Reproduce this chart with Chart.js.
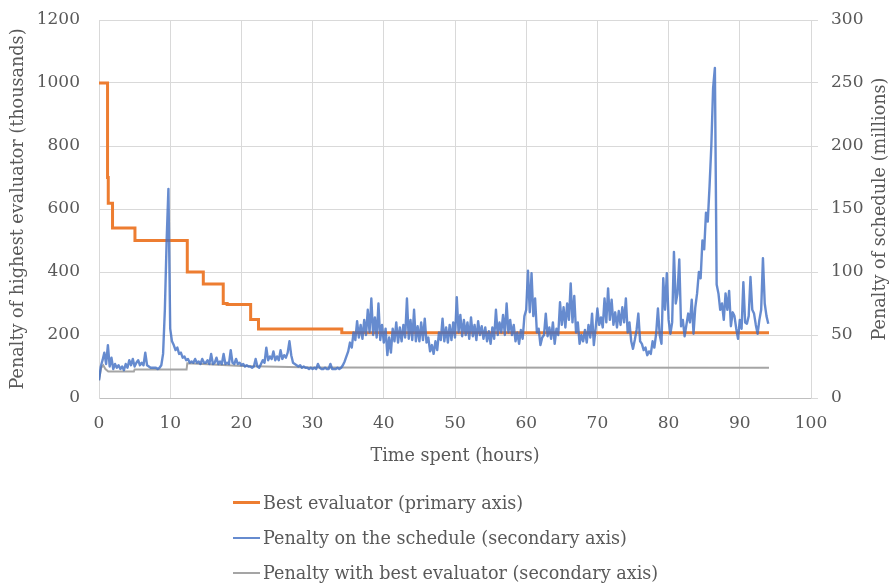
<!DOCTYPE html>
<html>
<head>
<meta charset="utf-8">
<script src="https://cdn.jsdelivr.net/npm/chart.js@4.4.1/dist/chart.umd.min.js"></script>
<style>
  body { margin: 0; background: #fff; }
  #wrap { position: relative; width: 893px; height: 586px; }
  #legend { position: absolute; left: 233px; top: 485px; font: 17.6px 'DejaVu Serif', serif; color: #595959; }
  .row { display: flex; align-items: center; height: 35px; white-space: nowrap; }
  .swatch { width: 27px; margin-right: 3px; }
</style>
</head>
<body>
<div id="wrap">
  <canvas id="myChart" width="893" height="586"></canvas>
  <div id="legend"></div>
</div>
<script>
// Meilleur évaluateur (axe principal, milliers) - valeur tenue jusqu'au point suivant
const evaluatorHours = [0, 1.2, 1.3, 1.9, 5.05, 12.4, 14.65, 17.45, 18.0, 21.3, 22.4, 34.1, 94.1];
const evaluatorPenalty = [1000, 700, 618, 540, 500, 400, 362, 300, 297, 249, 219, 207, 207];

// Pénalité avec le meilleur évaluateur (axe secondaire, millions)
const bestHours = [0, 0.3, 0.6, 0.9, 1.3, 4.9, 5.0, 12.3, 12.4, 16, 20, 25, 30, 94.1];
const bestPenalty = [14, 24, 26, 23, 21, 21, 22.6, 22.6, 27.5, 26.5, 25.3, 24.8, 24.2, 24];

// Pénalité du planning (axe secondaire, millions), un relevé toutes les 0.25 h
const scheduleStep = 0.25;
const schedulePenalty = [
  14, 25, 30, 36, 27, 42, 25, 32, 23, 27, 24, 26, 23, 25, 22, 27, 24, 30, 26, 31,          // 0 h
  25, 28, 30, 26, 28, 26, 36, 26, 25, 24, 24, 24, 24, 23, 24, 26, 35, 70, 125, 166,        // 5 h
  55, 45, 42, 38, 40, 35, 36, 32, 33, 30, 31, 28, 29, 28, 31, 28, 29, 27, 31, 28,          // 10 h
  28, 30, 27, 35, 27, 28, 32, 27, 29, 27, 35, 27, 28, 27, 38, 28, 27, 31, 27, 28,          // 15 h
  26, 27, 25, 26, 25, 25, 24, 25, 31, 25, 24, 27, 30, 28, 40, 30, 33, 31, 37, 30,          // 20 h
  33, 30, 38, 31, 34, 32, 36, 45, 34, 28, 27, 26, 25, 26, 24, 25, 24, 24, 23, 24,          // 25 h
  23, 24, 23, 27, 24, 23, 23, 24, 23, 23, 27, 23, 23, 23, 24, 23, 24, 26, 29, 33,          // 30 h
  37, 44, 40, 52, 46, 61, 48, 58, 47, 62, 50, 70, 52, 79, 50, 64, 48, 75, 46, 58,          // 35 h
  44, 55, 34, 48, 36, 55, 45, 60, 44, 56, 45, 58, 48, 79, 47, 62, 46, 70, 45, 57,          // 40 h
  45, 60, 46, 63, 44, 48, 37, 42, 35, 45, 38, 52, 46, 63, 45, 56, 44, 58, 46, 60,          // 45 h
  48, 80, 52, 66, 49, 62, 50, 60, 47, 64, 49, 58, 46, 61, 50, 57, 47, 56, 45, 53,          // 50 h
  43, 56, 47, 70, 50, 60, 52, 66, 50, 75, 52, 62, 50, 58, 45, 52, 43, 54, 47, 65,          // 55 h
  70, 101, 68, 99, 65, 79, 52, 55, 42, 48, 50, 67, 49, 56, 47, 60, 43, 55, 50, 76,         // 60 h
  58, 72, 56, 75, 62, 91, 60, 81, 52, 60, 43, 50, 45, 54, 44, 58, 48, 67, 42, 55,          // 65 h
  71, 58, 64, 56, 79, 60, 87, 62, 78, 58, 68, 56, 69, 58, 72, 60, 79, 52, 60, 45,          // 70 h
  39, 46, 54, 67, 45, 43, 38, 40, 34, 37, 35, 45, 40, 51, 71, 50, 43, 95, 70, 99,          // 75 h
  62, 51, 60, 116, 75, 83, 110, 57, 62, 49, 58, 67, 60, 78, 51, 72, 83, 100, 95, 125,      // 80 h
  118, 147, 140, 168, 200, 246, 262, 90, 83, 70, 75, 62, 83, 70, 85, 57, 68, 65, 55, 47,   // 85 h
  62, 55, 92, 60, 59, 65, 96, 70, 67, 58, 51, 62, 70, 111, 75, 65, 59                      // 90 h
];

const fontFamily = "'DejaVu Serif', serif";
const textColor = '#595959';
const gridColor = '#d9d9d9';
const tickFont = { family: fontFamily, size: 17 };
const titleFont = { family: fontFamily, size: 17.6 };

// titre de l'axe secondaire, lu de bas en haut
const rightTitle = {
    id: 'rightTitle',
    afterDraw(chart) {
        const ctx = chart.ctx;
        const area = chart.chartArea;
        ctx.save();
        ctx.translate(880, (area.top + area.bottom) / 2);
        ctx.rotate(-Math.PI / 2);
        ctx.font = titleFont.size + 'px ' + fontFamily;
        ctx.fillStyle = textColor;
        ctx.textAlign = 'center';
        ctx.textBaseline = 'middle';
        ctx.fillText('Penalty of schedule (millions)', 0, 0);
        ctx.restore();
    },
};

const datasets = [
    {
        label: 'Best evaluator (primary axis)',
        data: evaluatorHours.map((h, i) => ({ x: h, y: evaluatorPenalty[i] })),
        yAxisID: 'y',
        borderColor: '#ed7d31',
        borderWidth: 3,
        stepped: 'before',
        order: 3,
    },
    {
        label: 'Penalty on the schedule (secondary axis)',
        data: schedulePenalty.map((v, i) => ({ x: i * scheduleStep, y: v })),
        yAxisID: 'y2',
        borderColor: 'rgba(68, 114, 196, 0.82)',
        borderWidth: 2.4,
        borderJoinStyle: 'round',
        order: 1,
    },
    {
        label: 'Penalty with best evaluator (secondary axis)',
        data: bestHours.map((h, i) => ({ x: h, y: bestPenalty[i] })),
        yAxisID: 'y2',
        borderColor: '#a5a5a5',
        borderWidth: 2,
        order: 2,
    },
];

const plain = (v) => String(v);
// pas de marge automatique autour des étiquettes : la zone du graphique est fixée à la main
const noPad = (scale) => {
    scale.paddingTop = 0;
    scale.paddingBottom = 0;
    scale.paddingLeft = 0;
    scale.paddingRight = 0;
};

const ctx = document.getElementById('myChart').getContext('2d');
new Chart(ctx, {
    type: 'line',
    data: { datasets },
    options: {
        responsive: false,
        animation: false,
        devicePixelRatio: 1,
        elements: { point: { radius: 0 }, line: { tension: 0 } },
        layout: { padding: { top: 20, left: 0, right: 0, bottom: 118 } },
        plugins: { legend: { display: false }, tooltip: { enabled: false } },
        scales: {
            x: {
                type: 'linear',
                min: 0,
                max: 100,
                afterFit: (scale) => { scale.height = 70; noPad(scale); },
                ticks: { stepSize: 10, padding: 15, color: textColor, font: tickFont, callback: plain },
                grid: { color: gridColor, drawTicks: false },
                border: { color: '#bfbfbf' },
                title: { display: true, text: 'Time spent (hours)', color: textColor, padding: { bottom: 1 }, font: titleFont },
            },
            y: {
                position: 'left',
                min: 0,
                max: 1200,
                afterFit: (scale) => { scale.width = 99; noPad(scale); },
                ticks: { stepSize: 200, padding: 19, color: textColor, font: tickFont, callback: plain },
                grid: { color: gridColor, drawTicks: false },
                border: { color: gridColor },
                title: { display: true, text: 'Penalty of highest evaluator (thousands)', color: textColor, padding: { top: 8 }, font: titleFont },
            },
            y2: {
                position: 'right',
                min: 0,
                max: 300,
                afterFit: (scale) => { scale.width = 82; noPad(scale); },
                ticks: { stepSize: 50, padding: 13, color: textColor, font: tickFont, callback: plain },
                grid: { color: gridColor, drawOnChartArea: false, tickLength: 7 },
                border: { color: gridColor },
            },
        },
    },
    plugins: [rightTitle],
});

// Légende verticale sous le graphique
const legend = document.getElementById('legend');
datasets.forEach((ds) => {
    const row = document.createElement('div');
    row.className = 'row';
    const sw = document.createElement('span');
    sw.className = 'swatch';
    sw.style.height = Math.round(ds.borderWidth) + 'px';
    sw.style.background = ds.borderColor;
    const txt = document.createElement('span');
    txt.textContent = ds.label;
    row.appendChild(sw);
    row.appendChild(txt);
    legend.appendChild(row);
});
</script>
</body>
</html>
